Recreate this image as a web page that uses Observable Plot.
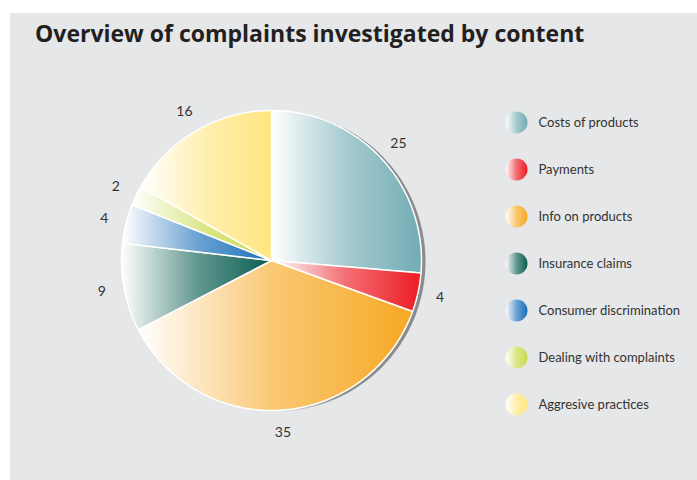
<!DOCTYPE html>
<html>
<head>
<meta charset="utf-8">
<script src="https://cdn.jsdelivr.net/npm/d3@7"></script>
<script src="https://cdn.jsdelivr.net/npm/@observablehq/plot@0.6"></script>
<style>
  body { margin: 0; background: #ffffff; width: 697px; height: 480px; overflow: hidden; }
  #panel { position: absolute; left: 10px; top: 13px; width: 687px; height: 467px; background: #e6e7e8; }
  #title { position: absolute; left: 25px; top: 5px; font: bold 23px "Open Sans", Lato, sans-serif; color: #231f20; white-space: nowrap; line-height: 30px; }
  #pie { position: absolute; left: 0; top: 45px; }
  #legend { position: absolute; left: 490px; top: 87px; }
  svg { overflow: visible; }
</style>
</head>
<body>
<svg id="defs" width="0" height="0" style="position:absolute;left:0;top:0"></svg>
<div id="panel">
  <div id="title">Overview of complaints investigated by content</div>
  <div id="pie"></div>
  <div id="legend"></div>
</div>
<script>
const categories = ["Costs of products", "Payments", "Info on products", "Insurance claims", "Consumer discrimination", "Dealing with complaints", "Aggresive practices"];
const values = [25, 4, 35, 9, 4, 2, 16];
const colors = ["#72adb4", "#ed1c24", "#f7a823", "#0b5e52", "#1a6fb9", "#c8d94a", "#ffe680"];

// gradient definitions (white -> colour, left to right of each shape)
const defs = d3.select("#defs").append("defs");
colors.forEach((c, i) => {
  const g = defs.append("linearGradient").attr("id", "g" + i).attr("x1", 0).attr("x2", 1).attr("y1", 0).attr("y2", 0);
  g.append("stop").attr("offset", 0).attr("stop-color", "#ffffff");
  g.append("stop").attr("offset", 0.5).attr("stop-color", d3.interpolateRgb("#ffffff", c)(0.64));
  g.append("stop").attr("offset", 1).attr("stop-color", c);
});
const sh = defs.append("linearGradient").attr("id", "shadow").attr("x1", 0).attr("x2", 1).attr("y1", 0).attr("y2", 0);
sh.append("stop").attr("offset", 0.5).attr("stop-color", "#8a8c8e").attr("stop-opacity", 0);
sh.append("stop").attr("offset", 0.72).attr("stop-color", "#8a8c8e").attr("stop-opacity", 1);
const fills = categories.map((_, i) => `url(#g${i})`);

// slice geometry from the values (unit circle, clockwise from 12 o'clock)
const total = d3.sum(values);
const cum = d3.cumsum(values);
const slices = [];
const labels = [];
values.forEach((v, i) => {
  const a0 = (cum[i] - v) / total * 2 * Math.PI;
  const a1 = cum[i] / total * 2 * Math.PI;
  const n = Math.max(2, Math.ceil((a1 - a0) * 180 / Math.PI));
  slices.push({cat: categories[i], x: 0, y: 0});
  for (let k = 0; k <= n; k++) {
    const a = a0 + (a1 - a0) * k / n;
    slices.push({cat: categories[i], x: Math.sin(a), y: Math.cos(a)});
  }
  slices.push({cat: categories[i], x: 0, y: 0});
  const am = (a0 + a1) / 2;
  labels.push({text: String(v), x: 1.15 * Math.sin(am), y: 1.15 * Math.cos(am)});
});
const disc = d3.range(0, 361, 2).map(d => ({x: Math.sin(d * Math.PI / 180), y: Math.cos(d * Math.PI / 180)}));

const font = "Lato, 'Open Sans', sans-serif";

const pie = Plot.plot({
  width: 480, height: 422,
  margin: 0,
  x: {domain: [-1, 1], range: [111, 411], axis: null},
  y: {domain: [-1, 1], range: [352, 52], axis: null},
  color: {domain: categories, range: fills},
  style: {background: "transparent", fontFamily: font, overflow: "visible"},
  marks: [
    Plot.line(disc, {x: "x", y: "y", fill: "url(#shadow)", stroke: "none", dx: 4, dy: 1}),
    Plot.line(slices, {x: "x", y: "y", z: "cat", fill: "cat", stroke: "#ffffff", strokeWidth: 1.5, strokeLinejoin: "round"}),
    Plot.text(labels, {x: "x", y: "y", text: "text", fontSize: 14, fill: "#333333"})
  ]
});
document.getElementById("pie").appendChild(pie);

const legend = Plot.plot({
  width: 197, height: 330,
  margin: 0,
  y: {type: "point", domain: categories, range: [22, 304], padding: 0, axis: null},
  color: {domain: categories, range: fills},
  style: {background: "transparent", fontFamily: font, overflow: "visible"},
  marks: [
    Plot.dot(categories, {y: d => d, fill: d => d, r: 11, stroke: "none", frameAnchor: "left", dx: 16}),
    Plot.text(categories, {y: d => d, text: d => d, frameAnchor: "left", dx: 38, textAnchor: "start", fontSize: 13, fill: "#333333"})
  ]
});
document.getElementById("legend").appendChild(legend);
</script>
</body>
</html>
